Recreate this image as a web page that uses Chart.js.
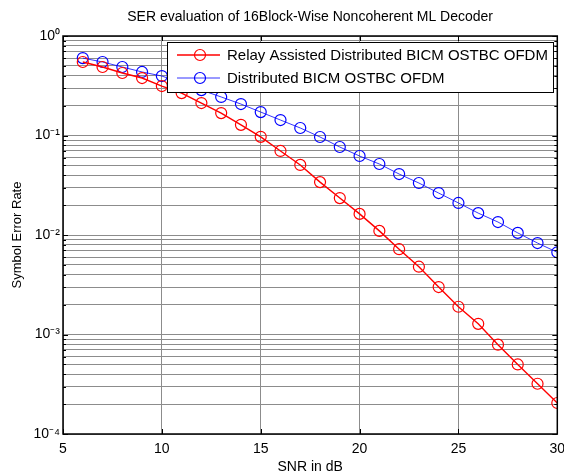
<!DOCTYPE html>
<html><head><meta charset="utf-8">
<script src="https://cdn.jsdelivr.net/npm/chart.js@4"></script>
<style>html,body{margin:0;padding:0;background:#fff}#wrap{width:564px;height:474px}</style>
</head><body><div id="wrap"><canvas id="c" width="564" height="474"></canvas></div>
<script>
const chartTitle = 'SER evaluation of 16Block-Wise Noncoherent ML Decoder';
const xAxisTitle = 'SNR in dB';
const yAxisTitle = 'Symbol Error Rate';
const seriesNames = ['Relay Assisted Distributed BICM OSTBC OFDM', 'Distributed BICM OSTBC OFDM'];
const snr = [6,7,8,9,10,11,12,13,14,15,16,17,18,19,20,21,22,23,24,25,26,27,28,29,30];
const relaySER = [0.548,0.488,0.425,0.378,0.314,0.267,0.212,0.168,0.128,0.097,0.0699,0.0506,0.034,0.0235,0.0163,0.011,0.0072,0.0048,0.0030,0.0019,0.00128,0.00079,0.0005,0.00032,0.000205];
const distSER = [0.60,0.548,0.488,0.435,0.396,0.337,0.286,0.244,0.207,0.172,0.143,0.119,0.0966,0.0766,0.0622,0.0517,0.041,0.0333,0.0264,0.021,0.0166,0.0135,0.0105,0.0083,0.0067];
const xTicks = [5,10,15,20,25,30];
const yDecadeExponents = [-4,-3,-2,-1,0];
const yTickLabels = ['10\u207B\u2074','10\u207B\u00B3','10\u207B\u00B2','10\u207B\u00B9','10\u2070'];
const seriesColors = ['#ff0000', '#0000ff'];

const FONT = "'Liberation Sans', Arial, sans-serif";

function yTickValues() {
  const v = [];
  for (let i = 0; i < yDecadeExponents.length - 1; i++) {
    const d = Math.pow(10, yDecadeExponents[i]);
    for (let k = 1; k <= 9; k++) v.push(k * d);
  }
  v.push(Math.pow(10, yDecadeExponents[yDecadeExponents.length - 1]));
  return v;
}

const boxPlugin = {
  id: 'boxPlugin',
  afterDraw(chart) {
    const {ctx, chartArea: a} = chart;
    ctx.save();
    // title centred over the plot area
    ctx.fillStyle = '#000';
    ctx.font = '14px ' + FONT;
    ctx.textAlign = 'center';
    ctx.textBaseline = 'middle';
    ctx.fillText(chartTitle, (a.left + a.right) / 2, 17);
    ctx.textAlign = 'left';
    // inner tick marks
    ctx.strokeStyle = '#000';
    ctx.lineWidth = 1;
    const xs = chart.scales.x, ys = chart.scales.y;
    ctx.beginPath();
    xTicks.forEach(t => {
      const px = Math.round(xs.getPixelForValue(t)) + 0.5;
      ctx.moveTo(px, a.bottom); ctx.lineTo(px, a.bottom - 5);
      ctx.moveTo(px, a.top); ctx.lineTo(px, a.top + 5);
    });
    yTickValues().forEach(t => {
      const py = Math.round(ys.getPixelForValue(t)) + 0.5;
      const major = Math.abs(Math.log10(t) - Math.round(Math.log10(t))) < 1e-9;
      const len = major ? 5 : 3;
      ctx.moveTo(a.left, py); ctx.lineTo(a.left + len, py);
      ctx.moveTo(a.right, py); ctx.lineTo(a.right - len, py);
    });
    ctx.stroke();
    // box
    ctx.lineWidth = 1.5;
    ctx.strokeRect(a.left, a.top, a.right - a.left, a.bottom - a.top);

    // legend
    const lx = 167, ly = 42, lw = 386, lh = 50;
    ctx.fillStyle = '#fff';
    ctx.fillRect(lx, ly, lw, lh);
    ctx.lineWidth = 1;
    ctx.strokeStyle = '#000';
    ctx.strokeRect(lx + 0.5, ly + 0.5, lw, lh);
    ctx.font = '15px ' + FONT;
    ctx.textBaseline = 'middle';
    chart.data.datasets.forEach((ds, i) => {
      const y = ly + 13 + i * 23;
      ctx.strokeStyle = ds.borderColor;
      ctx.lineWidth = ds.borderWidth;
      ctx.beginPath(); ctx.moveTo(lx + 10, y); ctx.lineTo(lx + 53, y); ctx.stroke();
      ctx.lineWidth = 1.2;
      ctx.beginPath(); ctx.arc(lx + 33, y, 5.5, 0, Math.PI * 2); ctx.stroke();
      ctx.fillStyle = '#000';
      ctx.fillText(ds.label, lx + 60, y + 1);
    });
    ctx.restore();
  }
};

new Chart(document.getElementById('c'), {
  type: 'line',
  data: {
    datasets: [
      { label: seriesNames[0], data: snr.map((x, i) => ({x, y: relaySER[i]})),
        borderColor: seriesColors[0], backgroundColor: 'rgba(0,0,0,0)', borderWidth: 1.4,
        pointRadius: 5.5, pointBorderWidth: 1.2, pointBackgroundColor: 'rgba(0,0,0,0)', pointBorderColor: seriesColors[0], tension: 0 },
      { label: seriesNames[1], data: snr.map((x, i) => ({x, y: distSER[i]})),
        borderColor: seriesColors[1], backgroundColor: 'rgba(0,0,0,0)', borderWidth: 0.8,
        pointRadius: 5.5, pointBorderWidth: 1.2, pointBackgroundColor: 'rgba(0,0,0,0)', pointBorderColor: seriesColors[1], tension: 0 }
    ]
  },
  options: {
    responsive: false, animation: false, devicePixelRatio: 1,
    layout: { padding: { left: 0, right: 4, top: 36, bottom: 0 } },
    plugins: {
      legend: { display: false },
      tooltip: { enabled: false },
      title: { display: false }
    },
    scales: {
      x: {
        type: 'linear', min: 5, max: 30,
        afterBuildTicks: s => { s.ticks = xTicks.map(v => ({value: v})); },
        afterFit: s => { s.height = 40; s.paddingLeft = 0; s.paddingRight = 0; },
        ticks: { color: '#000', font: { family: FONT, size: 14 }, padding: 7, maxRotation: 0, autoSkip: false },
        grid: { color: '#8c8c8c', lineWidth: 1, drawTicks: false },
        border: { display: false },
        title: { display: true, text: xAxisTitle, color: '#000', font: { family: FONT, size: 14 }, padding: { top: 0, bottom: -2 } }
      },
      y: {
        type: 'logarithmic', min: 1e-4, max: 1,
        afterBuildTicks: s => { s.ticks = yTickValues().map(v => ({value: v})); },
        afterFit: s => { s.width = 63; s.paddingTop = 0; s.paddingBottom = 0; },
        ticks: { color: '#000', font: { family: FONT, size: 14 }, padding: 3, autoSkip: false,
          callback: v => {
            const e = Math.log10(v);
            if (Math.abs(e - Math.round(e)) > 1e-9) return '';
            const idx = yDecadeExponents.indexOf(Math.round(e));
            return idx >= 0 ? yTickLabels[idx] : '';
          } },
        grid: { color: '#8c8c8c', lineWidth: 1, drawTicks: false },
        border: { display: false },
        title: { display: true, text: yAxisTitle, color: '#000', font: { family: FONT, size: 13 }, padding: { top: 10, bottom: 0 } }
      }
    }
  },
  plugins: [boxPlugin]
});
</script>
</body></html>
